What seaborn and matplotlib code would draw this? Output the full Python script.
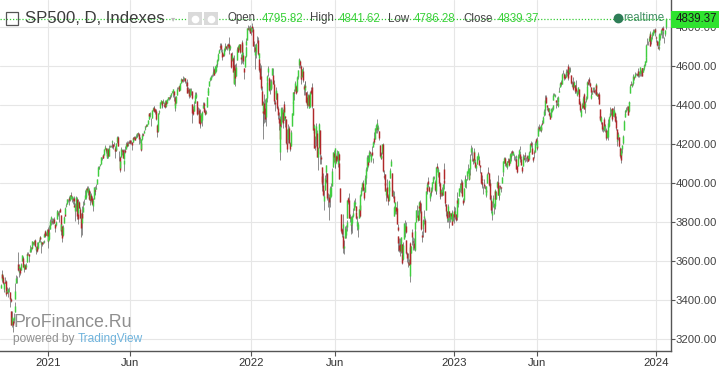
import numpy as np
import pandas as pd
import matplotlib
matplotlib.use("Agg")
import matplotlib.pyplot as plt
import seaborn as sns
from matplotlib.patches import Rectangle
from matplotlib.lines import Line2D

# daily bars, 2020-10-09 .. 2024-01-19 (one line per month)
opens = [
    3459, 3500, 3534, 3515, 3453, 3493, 3494, 3439, 3440, 3439, 3464, 3441, 3403, 3343, 3277, 3293,
    3296, 3336, 3406, 3485, 3509, 3583, 3543, 3563, 3562, 3552, 3600, 3611, 3612, 3559, 3579, 3566, 3594, 3635, 3638, 3634,
    3645, 3654, 3668, 3670, 3694, 3683, 3706, 3659, 3656, 3675, 3666, 3696, 3713, 3722, 3684, 3698, 3693, 3694, 3723, 3750, 3736, 3734,
    3764, 3699, 3712, 3764, 3815, 3803, 3801, 3802, 3814, 3788, 3781, 3816, 3857, 3844, 3851, 3863, 3836, 3755, 3778,
    3732, 3791, 3840, 3837, 3878, 3892, 3911, 3920, 3917, 3911, 3939, 3918, 3916, 3921, 3885, 3857, 3874, 3915, 3839,
    3842, 3903, 3863, 3818, 3793, 3844, 3851, 3891, 3916, 3924, 3943, 3973, 3949, 3963, 3914, 3917, 3938, 3919, 3880, 3917, 3970, 3963, 3968,
    3993, 4034, 4075, 4077, 4090, 4097, 4125, 4130, 4141, 4140, 4174, 4179, 4159, 4128, 4170, 4139, 4185, 4188, 4185, 4206, 4198,
    4191, 4180, 4177, 4169, 4206, 4233, 4150, 4130, 4074, 4129, 4169, 4169, 4098, 4122, 4168, 4170, 4205, 4191, 4201, 4210,
    4217, 4207, 4207, 4207, 4229, 4233, 4232, 4229, 4242, 4248, 4256, 4248, 4220, 4204, 4173, 4224, 4249, 4256, 4274, 4284, 4294, 4291,
    4300, 4326, 4356, 4351, 4321, 4330, 4373, 4381, 4381, 4375, 4367, 4297, 4266, 4321, 4361, 4381, 4409, 4416, 4403, 4407, 4396,
    4406, 4392, 4416, 4408, 4429, 4437, 4436, 4442, 4447, 4464, 4461, 4469, 4440, 4382, 4410, 4450, 4484, 4490, 4493, 4474, 4513, 4529,
    4528, 4534, 4532, 4535, 4518, 4514, 4492, 4474, 4479, 4447, 4477, 4470, 4403, 4375, 4367, 4406, 4438, 4443, 4419, 4362, 4371,
    4318, 4349, 4310, 4320, 4384, 4407, 4386, 4368, 4359, 4386, 4448, 4464, 4497, 4524, 4532, 4549, 4555, 4579, 4580, 4562, 4572,
    4610, 4613, 4630, 4662, 4699, 4701, 4707, 4670, 4659, 4655, 4689, 4684, 4701, 4700, 4708, 4712, 4679, 4690, 4664, 4628, 4640,
    4602, 4505, 4589, 4548, 4628, 4691, 4696, 4687, 4710, 4643, 4637, 4719, 4652, 4588, 4594, 4651, 4703, 4733, 4795, 4789, 4795, 4776,
    4778, 4804, 4787, 4693, 4697, 4655, 4670, 4728, 4733, 4637, 4632, 4588, 4547, 4471, 4356, 4367, 4408, 4380, 4336, 4432,
    4519, 4566, 4535, 4482, 4505, 4480, 4553, 4554, 4506, 4412, 4429, 4455, 4457, 4385, 4333, 4325, 4155, 4299, 4354,
    4364, 4322, 4401, 4342, 4327, 4202, 4224, 4253, 4279, 4203, 4188, 4289, 4345, 4407, 4462, 4469, 4493, 4470, 4523, 4542, 4603, 4624, 4599,
    4540, 4547, 4573, 4495, 4474, 4494, 4462, 4437, 4398, 4449, 4385, 4390, 4473, 4490, 4385, 4255, 4279, 4187, 4223, 4253,
    4130, 4159, 4181, 4271, 4129, 4082, 4035, 3990, 3904, 3964, 4014, 4052, 4051, 3900, 3927, 3920, 3942, 3929, 3985, 4078, 4151,
    4150, 4096, 4137, 4134, 4097, 4148, 4102, 3974, 3838, 3764, 3765, 3728, 3665, 3715, 3733, 3774, 3821, 3920, 3913, 3826, 3786,
    3782, 3792, 3831, 3858, 3888, 3880, 3851, 3779, 3764, 3819, 3883, 3860, 3934, 3960, 3999, 3966, 3951, 3952, 4026, 4072,
    4113, 4104, 4107, 4155, 4116, 4155, 4122, 4181, 4227, 4225, 4269, 4291, 4281, 4273, 4267, 4195, 4135, 4126, 4154, 4198, 4034, 4042, 4000,
    3937, 3977, 3930, 3910, 3959, 4022, 4084, 4047, 3941, 3932, 3830, 3849, 3876, 3871, 3773, 3727, 3682, 3686, 3652, 3687, 3633,
    3609, 3710, 3753, 3777, 3707, 3640, 3595, 3590, 3520, 3690, 3638, 3746, 3703, 3689, 3657, 3764, 3800, 3825, 3834, 3809, 3881,
    3901, 3853, 3733, 3766, 3780, 3817, 3810, 3859, 3963, 3978, 4007, 3977, 3919, 3953, 3957, 3965, 4000, 4024, 4005, 3957, 3957,
    4087, 4041, 4053, 3996, 3937, 3947, 3954, 3939, 4069, 4015, 3958, 3890, 3853, 3810, 3840, 3853, 3816, 3843, 3829, 3805, 3829,
    3853, 3840, 3839, 3824, 3910, 3888, 3932, 3977, 3960, 3999, 4002, 3911, 3910, 3979, 4001, 4012, 4036, 4050, 4050, 4020,
    4071, 4158, 4137, 4120, 4106, 4156, 4105, 4074, 4096, 4127, 4120, 4114, 4089, 4052, 4002, 4019, 3974, 3993, 3977,
    3964, 3938, 4000, 4055, 4049, 3987, 3998, 3912, 3835, 3894, 3868, 3878, 3959, 3917, 3975, 4002, 3939, 3939, 3982, 3977, 3999, 4047, 4056,
    4102, 4128, 4099, 4082, 4085, 4111, 4121, 4101, 4140, 4137, 4164, 4140, 4131, 4132, 4133, 4121, 4087, 4083, 4130,
    4166, 4145, 4123, 4081, 4084, 4136, 4124, 4143, 4132, 4139, 4126, 4128, 4122, 4157, 4204, 4191, 4176, 4132, 4155, 4156, 4226, 4190,
    4183, 4241, 4283, 4271, 4285, 4268, 4304, 4308, 4346, 4370, 4373, 4439, 4397, 4380, 4365, 4355, 4345, 4337, 4367, 4377, 4422,
    4450, 4442, 4422, 4404, 4394, 4415, 4467, 4492, 4514, 4508, 4521, 4565, 4555, 4547, 4543, 4556, 4573, 4598, 4565, 4585,
    4579, 4550, 4494, 4514, 4492, 4498, 4501, 4487, 4451, 4458, 4478, 4433, 4406, 4344, 4380, 4415, 4396, 4456, 4389, 4426, 4433, 4500, 4518,
    4531, 4510, 4490, 4434, 4452, 4481, 4474, 4463, 4487, 4498, 4445, 4453, 4455, 4375, 4342, 4311, 4312, 4282, 4270, 4328,
    4284, 4269, 4233, 4260, 4234, 4289, 4340, 4367, 4380, 4360, 4342, 4345, 4358, 4321, 4273, 4211, 4236, 4232, 4175, 4152, 4140, 4172,
    4201, 4268, 4335, 4364, 4367, 4385, 4391, 4365, 4406, 4458, 4505, 4497, 4509, 4511, 4543, 4540, 4555, 4555, 4553, 4572, 4555,
    4560, 4564, 4587, 4586, 4568, 4586, 4601, 4619, 4646, 4721, 4719, 4726, 4743, 4764, 4725, 4754, 4758, 4773, 4786, 4782,
    4745, 4726, 4697, 4690, 4703, 4741, 4760, 4793, 4792, 4766, 4739, 4760, 4795.82,
]
highs = [
    3482, 3550, 3534, 3527, 3489, 3515, 3502, 3476, 3465, 3461, 3466, 3441, 3409, 3343, 3341, 3305,
    3330, 3389, 3486, 3529, 3521, 3645, 3557, 3581, 3569, 3586, 3628, 3624, 3620, 3585, 3582, 3589, 3643, 3635, 3644, 3634,
    3678, 3670, 3682, 3699, 3697, 3708, 3713, 3674, 3665, 3697, 3695, 3711, 3725, 3727, 3703, 3698, 3703, 3704, 3740, 3757, 3745, 3760,
    3770, 3738, 3783, 3811, 3827, 3818, 3811, 3820, 3823, 3789, 3805, 3859, 3861, 3852, 3859, 3870, 3836, 3830, 3779,
    3784, 3831, 3848, 3877, 3894, 3916, 3918, 3931, 3925, 3937, 3950, 3933, 3925, 3930, 3902, 3895, 3929, 3925, 3862,
    3914, 3906, 3873, 3843, 3851, 3881, 3904, 3917, 3960, 3944, 3970, 3981, 3983, 3970, 3919, 3956, 3949, 3931, 3919, 3978, 3981, 3969, 3995,
    4021, 4083, 4087, 4083, 4098, 4129, 4131, 4148, 4145, 4173, 4192, 4180, 4160, 4175, 4180, 4195, 4194, 4193, 4202, 4218, 4198,
    4210, 4187, 4187, 4202, 4238, 4237, 4162, 4134, 4131, 4183, 4170, 4170, 4117, 4172, 4188, 4210, 4213, 4203, 4214, 4218,
    4219, 4216, 4207, 4234, 4232, 4237, 4238, 4249, 4249, 4255, 4258, 4252, 4233, 4204, 4226, 4256, 4256, 4271, 4286, 4292, 4300, 4302,
    4320, 4355, 4359, 4362, 4330, 4372, 4387, 4393, 4394, 4376, 4375, 4302, 4336, 4359, 4370, 4415, 4422, 4416, 4415, 4430, 4412,
    4422, 4423, 4416, 4430, 4440, 4439, 4445, 4449, 4461, 4468, 4480, 4469, 4445, 4418, 4444, 4489, 4492, 4501, 4495, 4513, 4537, 4532,
    4531, 4545, 4541, 4536, 4521, 4529, 4497, 4492, 4486, 4486, 4486, 4472, 4403, 4394, 4416, 4465, 4457, 4466, 4419, 4389, 4382,
    4375, 4356, 4358, 4365, 4412, 4413, 4396, 4375, 4372, 4439, 4475, 4488, 4521, 4540, 4551, 4559, 4573, 4599, 4585, 4598, 4608,
    4620, 4635, 4664, 4683, 4718, 4714, 4708, 4684, 4664, 4688, 4697, 4715, 4701, 4708, 4717, 4744, 4701, 4703, 4664, 4672, 4646,
    4653, 4596, 4608, 4613, 4695, 4706, 4697, 4713, 4711, 4660, 4712, 4732, 4667, 4588, 4651, 4698, 4740, 4791, 4807, 4805, 4808, 4786,
    4797, 4818, 4797, 4725, 4708, 4673, 4714, 4749, 4745, 4666, 4632, 4612, 4602, 4494, 4417, 4411, 4453, 4429, 4432, 4516,
    4550, 4596, 4541, 4531, 4522, 4531, 4588, 4589, 4526, 4426, 4472, 4490, 4457, 4394, 4363, 4340, 4294, 4386, 4389,
    4375, 4401, 4416, 4343, 4327, 4277, 4299, 4268, 4292, 4209, 4271, 4358, 4413, 4465, 4481, 4522, 4501, 4521, 4546, 4576, 4637, 4628, 4603,
    4549, 4583, 4593, 4503, 4521, 4521, 4464, 4471, 4453, 4453, 4410, 4471, 4488, 4512, 4385, 4299, 4279, 4240, 4308, 4269,
    4169, 4185, 4308, 4271, 4141, 4082, 4069, 4050, 3964, 4039, 4047, 4090, 4045, 3946, 3944, 3982, 3956, 4000, 4076, 4159, 4168,
    4166, 4177, 4142, 4168, 4164, 4150, 4119, 3974, 3838, 3766, 3837, 3728, 3707, 3779, 3785, 3809, 3913, 3928, 3946, 3837, 3818,
    3829, 3832, 3870, 3911, 3919, 3880, 3873, 3829, 3796, 3864, 3903, 3940, 3975, 4002, 4013, 3976, 3953, 4040, 4078, 4140,
    4140, 4141, 4168, 4162, 4152, 4187, 4127, 4211, 4258, 4280, 4301, 4325, 4302, 4293, 4267, 4195, 4150, 4157, 4200, 4203, 4063, 4044, 4015,
    3970, 4019, 3942, 3987, 4011, 4076, 4119, 4050, 3962, 3959, 3880, 3902, 3877, 3907, 3790, 3727, 3715, 3717, 3720, 3687, 3672,
    3698, 3791, 3807, 3798, 3707, 3644, 3641, 3607, 3685, 3694, 3677, 3763, 3719, 3716, 3757, 3799, 3862, 3887, 3859, 3905, 3894,
    3911, 3894, 3751, 3796, 3814, 3860, 3818, 3958, 4001, 3996, 4028, 3983, 3954, 3980, 3962, 4004, 4034, 4034, 4012, 3966, 4080,
    4101, 4080, 4053, 4001, 3951, 3966, 3977, 3991, 4101, 4053, 3958, 3890, 3854, 3839, 3889, 3853, 3846, 3846, 3849, 3858, 3840,
    3878, 3873, 3839, 3907, 3951, 3920, 3971, 3998, 4003, 4016, 4015, 3923, 3973, 4040, 4028, 4020, 4060, 4095, 4063, 4077,
    4148, 4195, 4183, 4128, 4176, 4156, 4123, 4095, 4138, 4148, 4156, 4136, 4089, 4053, 4010, 4040, 3983, 4018, 3987,
    3971, 3984, 4048, 4079, 4051, 4001, 4018, 3934, 3905, 3937, 3894, 3965, 3959, 3956, 4009, 4039, 3989, 3973, 3989, 3979, 4031, 4055, 4110,
    4133, 4133, 4103, 4108, 4110, 4125, 4124, 4151, 4163, 4152, 4169, 4163, 4148, 4138, 4141, 4121, 4089, 4148, 4170,
    4186, 4164, 4136, 4083, 4147, 4142, 4131, 4155, 4132, 4143, 4141, 4136, 4162, 4202, 4213, 4210, 4186, 4133, 4165, 4213, 4231, 4193,
    4232, 4290, 4299, 4288, 4292, 4298, 4322, 4340, 4375, 4391, 4448, 4448, 4400, 4387, 4382, 4366, 4362, 4385, 4390, 4398, 4458,
    4457, 4454, 4422, 4440, 4412, 4443, 4488, 4517, 4528, 4532, 4562, 4579, 4564, 4555, 4568, 4582, 4583, 4607, 4595, 4595,
    4584, 4550, 4520, 4540, 4520, 4501, 4502, 4527, 4476, 4490, 4478, 4449, 4418, 4382, 4407, 4418, 4443, 4458, 4418, 4444, 4501, 4521, 4532,
    4541, 4514, 4490, 4452, 4474, 4490, 4490, 4479, 4511, 4498, 4466, 4461, 4462, 4375, 4357, 4339, 4313, 4292, 4314, 4334,
    4300, 4281, 4268, 4268, 4324, 4339, 4386, 4378, 4385, 4366, 4383, 4394, 4364, 4340, 4276, 4255, 4257, 4232, 4183, 4157, 4177, 4195,
    4245, 4320, 4373, 4372, 4386, 4391, 4393, 4418, 4414, 4503, 4521, 4511, 4521, 4557, 4544, 4568, 4560, 4562, 4568, 4587, 4570,
    4595, 4575, 4588, 4590, 4590, 4610, 4624, 4645, 4709, 4739, 4726, 4749, 4768, 4779, 4748, 4772, 4785, 4785, 4793, 4788,
    4754, 4729, 4727, 4721, 4765, 4766, 4785, 4798, 4802, 4774, 4744, 4783, 4841.62,
]
lows = [
    3458, 3492, 3500, 3480, 3441, 3484, 3419, 3439, 3433, 3415, 3441, 3364, 3388, 3268, 3259, 3234,
    3279, 3336, 3405, 3485, 3484, 3547, 3518, 3557, 3527, 3552, 3600, 3593, 3568, 3543, 3556, 3556, 3594, 3618, 3630, 3594,
    3645, 3645, 3658, 3670, 3679, 3678, 3670, 3648, 3633, 3645, 3660, 3695, 3710, 3696, 3637, 3676, 3686, 3689, 3723, 3721, 3730, 3726,
    3663, 3695, 3705, 3764, 3783, 3790, 3786, 3792, 3792, 3749, 3780, 3816, 3845, 3830, 3797, 3847, 3732, 3755, 3694,
    3725, 3791, 3828, 3837, 3874, 3892, 3902, 3885, 3905, 3906, 3917, 3901, 3890, 3885, 3874, 3805, 3853, 3814, 3789,
    3842, 3869, 3818, 3723, 3730, 3815, 3851, 3885, 3916, 3915, 3924, 3953, 3935, 3913, 3885, 3910, 3902, 3885, 3853, 3917, 3944, 3935, 3968,
    3993, 4034, 4069, 4069, 4083, 4096, 4114, 4124, 4124, 4140, 4170, 4150, 4124, 4127, 4126, 4138, 4182, 4182, 4181, 4176, 4174,
    4188, 4128, 4163, 4160, 4201, 4186, 4111, 4057, 4069, 4129, 4143, 4126, 4061, 4122, 4151, 4170, 4182, 4187, 4193, 4203,
    4197, 4198, 4168, 4207, 4208, 4218, 4219, 4229, 4233, 4235, 4238, 4196, 4203, 4164, 4173, 4218, 4239, 4256, 4271, 4280, 4287, 4288,
    4300, 4326, 4328, 4336, 4290, 4330, 4367, 4368, 4363, 4352, 4323, 4233, 4262, 4315, 4351, 4381, 4405, 4382, 4387, 4407, 4389,
    4385, 4387, 4400, 4407, 4425, 4424, 4429, 4436, 4441, 4461, 4438, 4418, 4396, 4367, 4407, 4450, 4478, 4490, 4469, 4474, 4513, 4516,
    4514, 4524, 4521, 4513, 4494, 4492, 4458, 4458, 4435, 4439, 4448, 4427, 4306, 4347, 4367, 4406, 4432, 4435, 4346, 4352, 4307,
    4289, 4279, 4304, 4289, 4384, 4385, 4360, 4348, 4354, 4386, 4448, 4447, 4497, 4522, 4526, 4540, 4549, 4568, 4551, 4562, 4567,
    4595, 4604, 4624, 4662, 4681, 4697, 4670, 4630, 4648, 4650, 4673, 4680, 4684, 4681, 4690, 4680, 4659, 4682, 4585, 4625, 4565,
    4511, 4505, 4496, 4548, 4628, 4684, 4667, 4681, 4666, 4609, 4612, 4658, 4608, 4531, 4594, 4645, 4703, 4733, 4780, 4778, 4776, 4765,
    4759, 4774, 4700, 4671, 4663, 4582, 4638, 4718, 4653, 4615, 4569, 4530, 4477, 4396, 4222, 4288, 4304, 4310, 4288, 4415,
    4484, 4544, 4470, 4452, 4474, 4480, 4553, 4503, 4401, 4365, 4429, 4429, 4379, 4328, 4268, 4222, 4114, 4286, 4313,
    4279, 4322, 4345, 4285, 4199, 4157, 4224, 4204, 4202, 4161, 4188, 4288, 4345, 4407, 4425, 4469, 4455, 4465, 4501, 4532, 4589, 4588, 4530,
    4507, 4540, 4514, 4450, 4450, 4484, 4408, 4381, 4395, 4392, 4380, 4390, 4455, 4385, 4268, 4200, 4175, 4169, 4188, 4132,
    4063, 4136, 4177, 4097, 4098, 3975, 3958, 3929, 3859, 3964, 4000, 4034, 3911, 3876, 3810, 3919, 3876, 3925, 3985, 4078, 4104,
    4074, 4074, 4099, 4110, 4080, 4114, 4017, 3900, 3743, 3722, 3723, 3639, 3636, 3715, 3716, 3754, 3821, 3889, 3820, 3799, 3738,
    3752, 3742, 3824, 3858, 3873, 3847, 3815, 3759, 3722, 3817, 3823, 3858, 3929, 3957, 3956, 3937, 3911, 3950, 3992, 4058,
    4094, 4080, 4107, 4135, 4108, 4134, 4103, 4181, 4200, 4225, 4256, 4277, 4253, 4263, 4218, 4131, 4123, 4122, 4147, 4057, 4018, 3977, 3955,
    3904, 3921, 3886, 3907, 3944, 4022, 4084, 3933, 3920, 3893, 3838, 3839, 3838, 3789, 3750, 3648, 3645, 3624, 3641, 3610, 3584,
    3604, 3710, 3723, 3741, 3636, 3595, 3570, 3577, 3491, 3581, 3638, 3678, 3656, 3657, 3647, 3733, 3800, 3825, 3804, 3808, 3863,
    3843, 3758, 3698, 3722, 3780, 3787, 3749, 3859, 3944, 3954, 3975, 3954, 3906, 3943, 3933, 3956, 4000, 4020, 3956, 3941, 3943,
    4054, 4027, 3984, 3918, 3923, 3933, 3933, 3939, 3993, 3966, 3880, 3828, 3800, 3797, 3840, 3765, 3797, 3813, 3783, 3805, 3801,
    3794, 3815, 3802, 3809, 3889, 3877, 3932, 3950, 3947, 3978, 3926, 3886, 3900, 3979, 3998, 3973, 4013, 4048, 4016, 4011,
    4037, 4141, 4112, 4094, 4099, 4111, 4074, 4060, 4096, 4114, 4119, 4089, 4048, 3995, 3982, 3972, 3943, 3973, 3968,
    3939, 3928, 4000, 4044, 3981, 3980, 3909, 3846, 3808, 3874, 3838, 3865, 3901, 3917, 3971, 3936, 3921, 3909, 3967, 3951, 3999, 4032, 4056,
    4101, 4086, 4081, 4078, 4072, 4108, 4087, 4101, 4113, 4124, 4140, 4140, 4115, 4113, 4117, 4072, 4050, 4083, 4128,
    4166, 4105, 4091, 4048, 4084, 4123, 4116, 4108, 4110, 4107, 4110, 4110, 4116, 4157, 4181, 4181, 4146, 4104, 4126, 4155, 4193, 4166,
    4171, 4241, 4266, 4263, 4265, 4260, 4294, 4306, 4341, 4345, 4371, 4407, 4370, 4360, 4351, 4341, 4328, 4337, 4360, 4371, 4422,
    4442, 4437, 4385, 4397, 4390, 4413, 4463, 4489, 4497, 4504, 4518, 4557, 4527, 4532, 4542, 4554, 4547, 4528, 4558, 4579,
    4567, 4505, 4490, 4474, 4492, 4461, 4461, 4458, 4443, 4453, 4432, 4403, 4364, 4335, 4380, 4382, 4396, 4375, 4357, 4415, 4431, 4497, 4500,
    4501, 4489, 4442, 4431, 4452, 4467, 4460, 4453, 4478, 4447, 4442, 4431, 4402, 4329, 4317, 4303, 4266, 4260, 4265, 4274,
    4260, 4220, 4227, 4240, 4219, 4283, 4334, 4346, 4325, 4315, 4342, 4338, 4313, 4268, 4223, 4189, 4220, 4182, 4128, 4103, 4133, 4153,
    4197, 4268, 4335, 4354, 4362, 4371, 4346, 4363, 4396, 4458, 4500, 4490, 4500, 4510, 4526, 4540, 4554, 4544, 4541, 4547, 4539,
    4546, 4546, 4557, 4547, 4566, 4577, 4600, 4617, 4643, 4704, 4704, 4725, 4743, 4698, 4708, 4737, 4758, 4768, 4781, 4751,
    4723, 4699, 4683, 4682, 4703, 4730, 4756, 4739, 4768, 4739, 4715, 4749, 4786.28,
]
closes = [
    3477, 3534, 3511, 3488, 3483, 3484, 3427, 3443, 3435, 3453, 3465, 3401, 3391, 3271, 3310, 3270,
    3310, 3370, 3443, 3510, 3509, 3550, 3545, 3573, 3537, 3585, 3627, 3610, 3568, 3582, 3558, 3578, 3636, 3630, 3638, 3622,
    3662, 3669, 3666, 3699, 3692, 3702, 3673, 3668, 3663, 3647, 3695, 3702, 3722, 3709, 3695, 3687, 3690, 3703, 3735, 3727, 3732, 3756,
    3700, 3726, 3748, 3804, 3825, 3799, 3801, 3809, 3795, 3768, 3798, 3852, 3853, 3841, 3855, 3849, 3750, 3787, 3714,
    3774, 3826, 3830, 3872, 3887, 3915, 3911, 3910, 3916, 3934, 3933, 3932, 3913, 3907, 3877, 3881, 3925, 3829, 3811,
    3901, 3870, 3820, 3768, 3842, 3821, 3875, 3898, 3939, 3943, 3969, 3962, 3974, 3915, 3913, 3940, 3910, 3889, 3909, 3975, 3971, 3959, 3973,
    4020, 4078, 4074, 4080, 4097, 4129, 4128, 4142, 4125, 4171, 4185, 4163, 4135, 4173, 4135, 4180, 4188, 4187, 4183, 4211, 4181,
    4192, 4164, 4168, 4201, 4233, 4189, 4152, 4063, 4113, 4174, 4164, 4128, 4116, 4159, 4156, 4197, 4189, 4196, 4201, 4204,
    4202, 4208, 4192, 4230, 4226, 4227, 4220, 4239, 4247, 4255, 4247, 4224, 4222, 4166, 4224, 4246, 4242, 4267, 4281, 4291, 4291, 4298,
    4320, 4352, 4344, 4358, 4320, 4370, 4385, 4369, 4374, 4360, 4327, 4259, 4323, 4359, 4368, 4412, 4422, 4401, 4400, 4419, 4395,
    4387, 4423, 4403, 4430, 4437, 4432, 4436, 4448, 4460, 4468, 4479, 4449, 4400, 4406, 4442, 4479, 4486, 4497, 4470, 4509, 4529, 4523,
    4524, 4537, 4535, 4520, 4514, 4493, 4459, 4469, 4443, 4480, 4474, 4433, 4358, 4354, 4396, 4449, 4455, 4443, 4353, 4360, 4308,
    4357, 4300, 4346, 4363, 4399, 4391, 4361, 4351, 4364, 4438, 4471, 4487, 4520, 4537, 4549, 4545, 4567, 4575, 4551, 4597, 4605,
    4613, 4631, 4660, 4680, 4697, 4701, 4686, 4646, 4649, 4683, 4683, 4701, 4689, 4704, 4698, 4683, 4691, 4701, 4595, 4655, 4567,
    4513, 4577, 4538, 4592, 4687, 4701, 4668, 4712, 4669, 4635, 4710, 4669, 4621, 4568, 4649, 4697, 4726, 4791, 4786, 4793, 4778, 4766,
    4797, 4794, 4701, 4696, 4677, 4670, 4713, 4726, 4660, 4663, 4577, 4533, 4483, 4398, 4410, 4357, 4350, 4327, 4432, 4516,
    4546, 4589, 4477, 4501, 4484, 4522, 4587, 4504, 4419, 4402, 4472, 4475, 4381, 4349, 4305, 4226, 4288, 4385, 4374,
    4306, 4387, 4363, 4329, 4201, 4171, 4278, 4260, 4204, 4173, 4262, 4358, 4412, 4463, 4461, 4512, 4457, 4520, 4543, 4576, 4632, 4602, 4530,
    4546, 4583, 4525, 4481, 4500, 4488, 4413, 4397, 4447, 4392, 4391, 4463, 4460, 4394, 4272, 4297, 4175, 4184, 4288, 4132,
    4155, 4175, 4301, 4147, 4123, 3991, 4001, 3935, 3930, 4024, 4008, 4088, 3923, 3901, 3901, 3974, 3941, 3979, 4058, 4158, 4132,
    4101, 4177, 4109, 4121, 4161, 4116, 4018, 3901, 3750, 3735, 3790, 3667, 3675, 3765, 3760, 3796, 3912, 3900, 3821, 3819, 3785,
    3825, 3831, 3845, 3903, 3899, 3855, 3819, 3802, 3790, 3863, 3831, 3937, 3960, 3999, 3962, 3967, 3921, 4024, 4072, 4130,
    4119, 4091, 4155, 4152, 4145, 4140, 4122, 4210, 4207, 4280, 4297, 4305, 4274, 4284, 4228, 4138, 4128, 4141, 4199, 4058, 4031, 3986, 3955,
    3967, 3924, 3908, 3980, 4006, 4067, 4110, 3932, 3946, 3901, 3873, 3900, 3856, 3790, 3758, 3693, 3655, 3647, 3719, 3640, 3586,
    3679, 3791, 3783, 3745, 3640, 3612, 3589, 3577, 3670, 3583, 3677, 3720, 3695, 3666, 3753, 3797, 3859, 3831, 3807, 3901, 3872,
    3856, 3760, 3720, 3771, 3807, 3828, 3749, 3956, 3993, 3957, 3992, 3959, 3947, 3965, 3950, 4003, 4027, 4026, 3964, 3958, 4080,
    4077, 4072, 3999, 3941, 3933, 3963, 3934, 3991, 4019, 3996, 3896, 3852, 3817, 3821, 3879, 3822, 3845, 3829, 3783, 3849, 3840,
    3824, 3853, 3808, 3895, 3893, 3919, 3970, 3983, 3999, 3991, 3929, 3898, 3973, 4019, 4017, 4016, 4060, 4071, 4018, 4077,
    4119, 4180, 4136, 4111, 4164, 4118, 4082, 4090, 4137, 4136, 4148, 4090, 4079, 3997, 3991, 4012, 3970, 3982, 3970,
    3951, 3981, 4046, 4048, 3986, 3992, 3918, 3862, 3855, 3920, 3892, 3960, 3917, 3951, 4003, 3937, 3949, 3971, 3977, 3971, 4028, 4051, 4109,
    4124, 4100, 4091, 4105, 4110, 4108, 4092, 4146, 4138, 4152, 4154, 4155, 4130, 4133, 4138, 4072, 4056, 4136, 4169,
    4168, 4120, 4091, 4061, 4136, 4138, 4119, 4138, 4131, 4124, 4136, 4110, 4159, 4198, 4192, 4192, 4146, 4116, 4151, 4205, 4206, 4180,
    4221, 4282, 4273, 4284, 4268, 4294, 4299, 4338, 4369, 4373, 4426, 4410, 4389, 4366, 4382, 4348, 4328, 4378, 4377, 4396, 4450,
    4455, 4447, 4412, 4399, 4409, 4439, 4472, 4510, 4505, 4522, 4555, 4565, 4535, 4536, 4554, 4567, 4566, 4537, 4582, 4589,
    4577, 4513, 4501, 4478, 4518, 4499, 4468, 4469, 4464, 4490, 4437, 4404, 4370, 4370, 4400, 4388, 4436, 4376, 4406, 4433, 4497, 4514, 4508,
    4516, 4497, 4465, 4451, 4457, 4487, 4462, 4467, 4505, 4450, 4454, 4444, 4402, 4330, 4320, 4337, 4274, 4275, 4300, 4288,
    4288, 4229, 4263, 4258, 4308, 4336, 4358, 4376, 4349, 4328, 4373, 4373, 4314, 4278, 4224, 4217, 4248, 4186, 4137, 4117, 4167, 4194,
    4237, 4318, 4358, 4365, 4379, 4383, 4347, 4415, 4411, 4496, 4502, 4508, 4514, 4547, 4538, 4556, 4559, 4550, 4555, 4551, 4568,
    4595, 4569, 4567, 4549, 4585, 4604, 4622, 4644, 4707, 4720, 4719, 4741, 4768, 4698, 4746, 4755, 4775, 4782, 4783, 4770,
    4743, 4705, 4689, 4697, 4764, 4757, 4783, 4780, 4784, 4766, 4739, 4780, 4839.37,
]

holidays = [
    "2020-11-26", "2020-12-25", "2021-01-01", "2021-01-18", "2021-02-15", "2021-04-02",
    "2021-05-31", "2021-07-05", "2021-09-06", "2021-11-25", "2021-12-24", "2022-01-17",
    "2022-02-21", "2022-04-15", "2022-05-30", "2022-06-20", "2022-07-04", "2022-09-05",
    "2022-11-24", "2022-12-26", "2023-01-02", "2023-01-16", "2023-02-20", "2023-04-07",
    "2023-05-29", "2023-06-19", "2023-07-04", "2023-09-04", "2023-11-23", "2023-12-25",
    "2024-01-01", "2024-01-15",
]
tick_months = [(2021, 1), (2021, 6), (2022, 1), (2022, 6), (2023, 1), (2023, 6), (2024, 1)]
tick_names = ["2021", "Jun", "2022", "Jun", "2023", "Jun", "2024"]
price_ticks = [3200, 3400, 3600, 3800, 4000, 4200, 4400, 4600, 4800]
last = dict(open=4795.82, high=4841.62, low=4786.28, close=4839.37)

GREEN = "#3fcf3f"
RED = "#b0282a"
WICK = "#6e6e6e"
TXT = "#444444"
NUM = "#3ad13a"

dates = pd.bdate_range("2020-10-09", "2024-01-19", freq="C", holidays=holidays)
n = min(len(opens), len(highs), len(lows), len(closes), len(dates))
df = pd.DataFrame({"date": dates[:n], "open": opens[:n], "high": highs[:n],
                   "low": lows[:n], "close": closes[:n]})
df["i"] = np.arange(n)
df["top"] = df[["open", "close"]].max(axis=1)
df["bot"] = df[["open", "close"]].min(axis=1)
df["high"] = np.maximum(df["high"], df["top"])
df["low"] = np.minimum(df["low"], df["bot"])
df["up"] = df["close"] >= df["open"]

sns.set_style("white")
plt.rcParams["font.family"] = ["Liberation Sans", "DejaVu Sans"]

W, H = 719, 368
def fx(x):
    return x / W
def fy(y):
    return 1 - y / H

fig = plt.figure(figsize=(W / 100, H / 100), dpi=100)
ax = fig.add_axes([0, 17 / H, 670.5 / W, 351 / H])

ax.vlines(df["i"], df["low"], df["high"], color=WICK, lw=0.55, zorder=2)
ax.vlines(df["i"], df["bot"], df["top"], color=np.where(df["up"], GREEN, RED), lw=1.05, zorder=3)

ax.axhline(last["close"], color="#33cc33", lw=0.9, ls=(0, (1, 1.5)), zorder=4)

tick_idx = [int(df.index[(df["date"].dt.year == y) & (df["date"].dt.month == m)][0]) for y, m in tick_months]
j0 = tick_idx[0]
ax.set_xlim(j0 - 59.0, j0 + 770.8)
ax.set_ylim(3137, 4936)
ax.set_xticks(tick_idx)
ax.set_xticklabels(tick_names)
ax.set_yticks(price_ticks)
ax.set_yticklabels([f"{v:.2f}" for v in price_ticks])

ax.grid(True, color="#e6e6e6", lw=0.8)
ax.set_axisbelow(True)
sns.despine(ax=ax, left=True, top=True, right=False, bottom=False)
for s in ("right", "bottom"):
    ax.spines[s].set_color("#555555")
    ax.spines[s].set_linewidth(1.0)

ax.yaxis.tick_right()
ax.tick_params(axis="y", right=True, left=False, labelright=True, labelleft=False,
               length=2.6, width=0.8, color="#555555", pad=1.2, labelsize=8.2, labelcolor=TXT)
ax.tick_params(axis="x", bottom=True, length=3.5, width=0.8, color="#555555", pad=1.5,
               labelsize=8.2, labelcolor="#333333")

# header
fig.add_artist(Rectangle((fx(5.5), fy(24.5)), 12 / W, 12 / H, fill=False, ec="#555555", lw=0.9,
                         transform=fig.transFigure))
fig.text(fx(25), fy(18.5), "SP500, D, Indexes", fontsize=12.1, color="#3c3c3c", va="center")
fig.text(fx(173), fy(19), "\u25be", fontsize=6, color="#bbbbbb", va="center", ha="center",
         family=["DejaVu Sans"])
for x0 in (188, 204):
    fig.add_artist(Rectangle((fx(x0), fy(25)), 13.5 / W, 13 / H, fc="#dadada", ec="none",
                             transform=fig.transFigure))
    fig.add_artist(Line2D([fx(x0 + 6.75)], [fy(18.5)], marker="o", ms=4.5, color="white",
                          transform=fig.transFigure))

for x0, s, c in [(228, "Open", TXT), (262, f"{last['open']:.2f}", NUM),
                 (310, "High", TXT), (339, f"{last['high']:.2f}", NUM),
                 (388, "Low", TXT), (414, f"{last['low']:.2f}", NUM),
                 (463, "Close", TXT), (498, f"{last['close']:.2f}", NUM)]:
    fig.text(fx(x0), fy(18.5), s, fontsize=8.3, color=c, va="center")

fig.add_artist(Line2D([fx(618)], [fy(17.5)], marker="o", ms=6, color="#2e7d57",
                      transform=fig.transFigure))
fig.text(fx(623), fy(18), "realtime", fontsize=8.3, color="#3f8f60", va="center")

fig.add_artist(Rectangle((fx(671), fy(27.5)), 48 / W, 16.5 / H, fc="#2fe32f", ec="none",
                         transform=fig.transFigure, zorder=10))
fig.text(fx(696), fy(19.2), f"{last['close']:.2f}", fontsize=8.3, color="#1a1a1a",
         va="center", ha="center", zorder=11)

# watermark
fig.text(fx(13), fy(327), "ProFinance.Ru", fontsize=12.8, color="#8f8f8f",
         va="baseline", zorder=6)
pw = fig.text(fx(13), fy(342), "powered by", fontsize=8.6, color="#8f8f8f",
              va="baseline", zorder=6)
fig.canvas.draw()
bb = pw.get_window_extent()
fig.text((bb.x1 + 3.5) / W, fy(342), "TradingView", fontsize=8.6, color="#6fb3dc",
         va="baseline", zorder=6)

fig.savefig("out.png", dpi=100)
